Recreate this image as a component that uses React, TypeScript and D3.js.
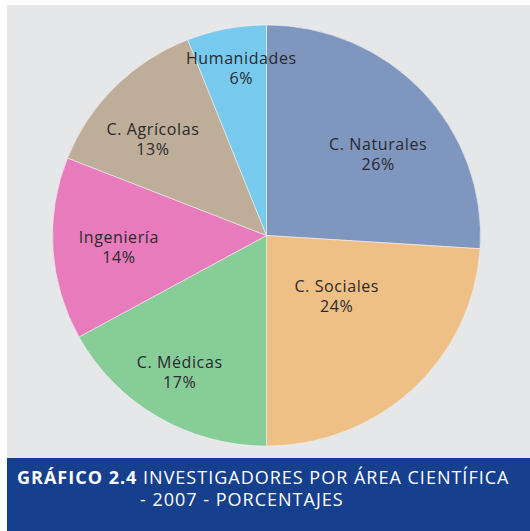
import { useEffect, useRef } from "react";
import * as d3 from "d3";

const areas = ["C. Naturales", "C. Sociales", "C. Médicas", "Ingeniería", "C. Agrícolas", "Humanidades"];
const shares = [26, 24, 17, 14, 13, 6];
const colors = ["#7f96bf", "#efc085", "#87cd98", "#e87bbb", "#bead98", "#77caee"];
// small hand nudges for label placement relative to the slice centroid
const labelNudge = [[6, 19], [-29, -44], [-13, 13], [-3, 3], [-11, 7], [2, -24]];

const titleBold = "GRÁFICO 2.4";
const titleRest = " INVESTIGADORES POR ÁREA CIENTÍFICA";
const titleLine2 = "- 2007 - PORCENTAJES";

const W = 530;
const H = 531;

export default function App() {
    const svgRef = useRef<SVGSVGElement>(null);

    useEffect(() => {
        const svg = d3.select(svgRef.current);
        svg.selectAll("*").remove();

        const font = "'Open Sans', 'Noto Sans', sans-serif";

        // panel backgrounds
        svg.append("rect").attr("x", 7).attr("y", 5).attr("width", W - 7).attr("height", 453).attr("fill", "#e6e7e9");
        svg.append("rect").attr("x", 7).attr("y", 458).attr("width", W - 7).attr("height", H - 458).attr("fill", "#163f8e");

        const cx = 266.5;
        const cy = 235.5;
        const r = 214;

        const pie = d3.pie<number>().sort(null).value((d) => d);
        const arcs = pie(shares);
        const arc = d3.arc<d3.PieArcDatum<number>>().innerRadius(0).outerRadius(r);
        const labelArc = d3.arc<d3.PieArcDatum<number>>().innerRadius(145).outerRadius(145);

        // the printed pie is a touch flatter than round
        svg.append("g")
            .attr("transform", `translate(${cx},${cy}) scale(1,0.984)`)
            .selectAll("path")
            .data(arcs)
            .enter()
            .append("path")
            .attr("d", arc)
            .attr("fill", (d, i) => colors[i])
            .attr("stroke", "#f2f2f2")
            .attr("stroke-width", 0.6);

        const labels = svg
            .append("g")
            .attr("transform", `translate(${cx},${cy})`)
            .selectAll(".lbl")
            .data(arcs)
            .enter()
            .append("text")
            .attr("class", "lbl")
            .attr("transform", (d, i) => {
                const [x, y] = labelArc.centroid(d);
                return `translate(${x + labelNudge[i][0]},${y + labelNudge[i][1]})`;
            })
            .attr("text-anchor", "middle")
            .style("font-family", font)
            .style("font-size", "16px")
            .style("letter-spacing", "0.6px")
            .attr("fill", "#2a292d");

        labels.append("tspan").attr("x", 0).attr("y", -5).text((d, i) => areas[i]);
        labels
            .append("tspan")
            .attr("x", 0)
            .attr("y", 15)
            .style("font-weight", "500")
            .text((d) => `${d.data}%`);

        // title banner
        const t1 = svg
            .append("text")
            .attr("x", 17)
            .attr("y", 484)
            .style("font-family", font)
            .style("font-size", "18px")
            .style("letter-spacing", "1px")
            .attr("fill", "#ffffff");
        t1.append("tspan").style("font-weight", "bold").text(titleBold);
        t1.append("tspan").text(titleRest);

        svg.append("text")
            .attr("x", 140)
            .attr("y", 506)
            .style("font-family", font)
            .style("font-size", "18px")
            .style("letter-spacing", "1px")
            .attr("fill", "#ffffff")
            .text(titleLine2);
    }, []);

    return <svg ref={svgRef} width={W} height={H} style={{ position: "absolute", left: 0, top: 0 }} />;
}
